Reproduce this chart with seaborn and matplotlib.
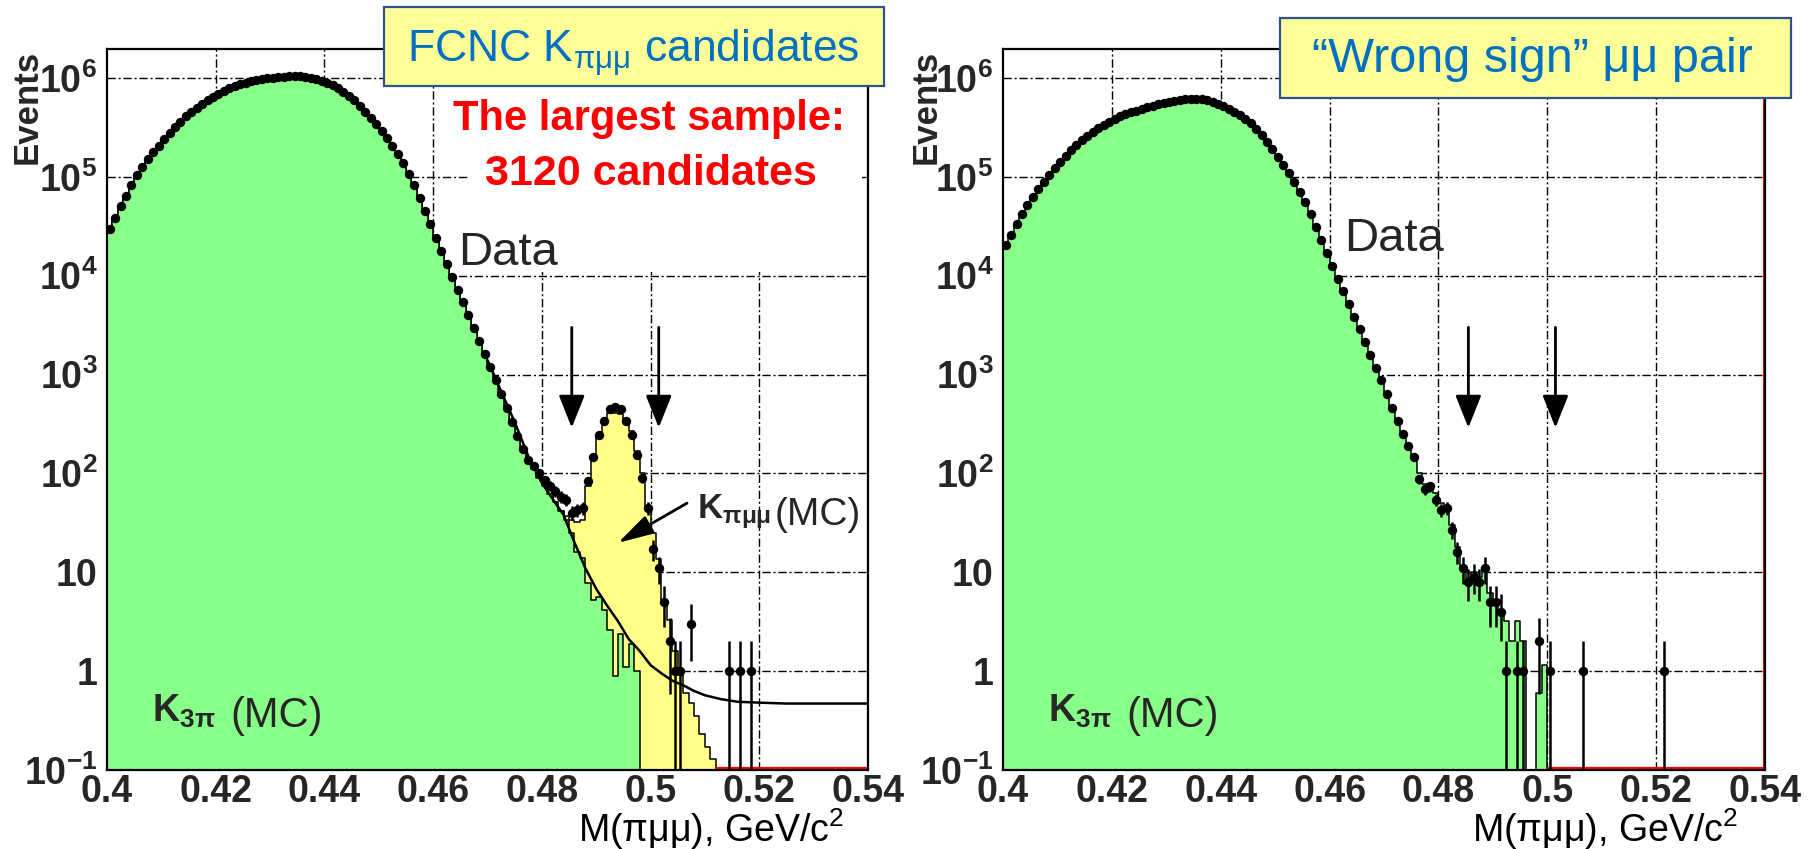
import matplotlib
matplotlib.use("Agg")
import matplotlib.pyplot as plt
from matplotlib import font_manager
from matplotlib.patches import Rectangle
from matplotlib.ticker import MultipleLocator, LogLocator, NullFormatter
import numpy as np
import seaborn as sns

W, H = 1809, 849

# 1 MeV bins from 0.40 to 0.54 GeV
BIN_EDGES = [round(0.400 + 0.001 * i, 4) for i in range(141)]
CENTERS = 0.5 * (np.array(BIN_EDGES[:-1]) + np.array(BIN_EDGES[1:]))

# ---- left panel: FCNC K -> pi mu mu candidates ----
LEFT_K3PI_MC = [
    29500, 38000, 50100, 64600, 83200, 104700, 125900, 151400, 177800, 204200,
    239900, 275400, 316200, 354800, 407400, 457100, 501200, 549500, 602600, 645700,
    691800, 741300, 794300, 831800, 871000, 891300, 933300, 955000, 977200, 1000000,
    1000000, 1023000, 1023000, 1035000, 1040000, 1035000, 1023000, 1000000, 977000, 933000,
    891000, 851000, 794000, 724000, 661000, 603000, 525000, 457000, 389000, 339000,
    288000, 245000, 204000, 170000, 138000, 107000, 83200, 61700, 44700, 33100,
    24000, 17800, 13200, 9770, 7240, 5370, 3980, 2950, 2190, 1620,
    1200, 871, 631, 457, 331, 240, 178, 138, 110, 89,
    74, 62, 51, 42, 34, 25, 16, 14, 7.8, 5.3,
    5.6, 4.2, 2.6, 0.9, 2.4, 1.1, 1.9, 1.0, 0, 0,
] + [0] * 40

LEFT_KPIMUMU_MC = [0] * 84 + [
    3, 9, 16, 20, 66, 143, 234, 336, 407, 409,
    393, 349, 266, 166, 100, 46, 25, 13.5, 5.3, 3.3,
    1.6, 1.0, 0.6, 0.48, 0.35, 0.23, 0.17, 0.13,
] + [0] * 28

LEFT_DATA = [
    29500, 38000, 50100, 64600, 83200, 104700, 125900, 151400, 177800, 204200,
    239900, 275400, 316200, 354800, 407400, 457100, 501200, 549500, 602600, 645700,
    691800, 741300, 794300, 831800, 871000, 891300, 933300, 955000, 977200, 1000000,
    1000000, 1023000, 1023000, 1035000, 1040000, 1035000, 1023000, 1000000, 977000, 933000,
    891000, 851000, 794000, 724000, 661000, 603000, 525000, 457000, 389000, 339000,
    288000, 245000, 204000, 170000, 138000, 107000, 83200, 61700, 44700, 33100,
    24000, 17800, 13200, 9770, 7240, 5370, 3980, 2950, 2190, 1620,
    1200, 871, 631, 457, 331, 240, 178, 138, 120, 100,
    85, 75, 66, 58, 54, 40, 43, 45, 83, 148,
    245, 340, 445, 470, 445, 340, 245, 155, 89, 45,
    17, 11, 5, 2, 1, 1, 0, 3, 0, 0,
    0, 0, 0, 0, 1, 0, 1, 0, 1, 0,
] + [0] * 20

FIT_MASS = [0.470, 0.4725, 0.475, 0.4775, 0.480, 0.482, 0.484, 0.486, 0.488, 0.490,
            0.492, 0.494, 0.496, 0.498, 0.500, 0.502, 0.504, 0.506, 0.508, 0.510,
            0.513, 0.516, 0.520, 0.525, 0.530, 0.540]
FIT_VALUE = [1400, 680, 330, 150, 80, 55, 38, 20, 11, 6.8,
             4.6, 3.2, 2.1, 1.6, 1.15, 0.95, 0.8, 0.72, 0.63, 0.57,
             0.52, 0.49, 0.48, 0.47, 0.47, 0.47]

# ---- right panel: "wrong sign" mu mu pairs ----
RIGHT_K3PI_MC = [
    20400, 25700, 33100, 41700, 51300, 63100, 75900, 89100, 104700, 123000,
    141300, 162200, 186200, 208900, 234400, 257000, 281800, 309000, 331100, 354800,
    380200, 407400, 426600, 446700, 467700, 489800, 512900, 524800, 549500, 562300,
    575400, 588800, 602600, 609500, 616600, 616600, 609500, 602600, 575400, 549500,
    524800, 489800, 457100, 416900, 380200, 346700, 302000, 263000, 223900, 190500,
    158500, 131800, 109600, 89100, 70800, 55000, 41700, 30900, 22900, 17000,
    12600, 9330, 6920, 5130, 3800, 2880, 2140, 1580, 1170, 871,
    631, 457, 339, 251, 191, 145, 100, 79, 69, 63,
    50, 42, 30, 18, 11.5, 8.4, 10, 9, 10.6, 6.2,
    5.3, 4.2, 3.2, 2.0, 3.2, 2.0, 0, 0, 0.6, 1.15,
] + [0] * 40

RIGHT_DATA = [
    20400, 25700, 33100, 41700, 51300, 63100, 75900, 89100, 104700, 123000,
    141300, 162200, 186200, 208900, 234400, 257000, 281800, 309000, 331100, 354800,
    380200, 407400, 426600, 446700, 467700, 489800, 512900, 524800, 549500, 562300,
    575400, 588800, 602600, 609500, 616600, 616600, 609500, 602600, 575400, 549500,
    524800, 489800, 457100, 416900, 380200, 346700, 302000, 263000, 223900, 190500,
    158500, 131800, 109600, 89100, 70800, 55000, 41700, 30900, 22900, 17000,
    12600, 9330, 6920, 5130, 3800, 2880, 2140, 1580, 1170, 871,
    631, 457, 339, 251, 191, 145, 87, 69, 74, 54,
    43, 45, 27, 16, 11, 8, 9, 8, 11, 5,
    5, 4, 1, 0, 1, 1, 0, 0, 2, 0,
    1, 0, 0, 0, 0, 0, 1, 0, 0, 0,
    0, 0, 0, 0, 0, 0, 0, 0, 0, 0,
    0, 1, 0, 0, 0, 0, 0, 0, 0, 0,
] + [0] * 10

CUT_MASS = [0.4855, 0.5015]
X_TICKS = [0.40, 0.42, 0.44, 0.46, 0.48, 0.50, 0.52, 0.54]
X_TICK_LABELS = ["0.4", "0.42", "0.44", "0.46", "0.48", "0.5", "0.52", "0.54"]
Y_TICKS = [0.1, 1, 10, 100, 1e3, 1e4, 1e5, 1e6]
Y_TICK_LABELS = ["10$\\mathregular{^{-1}}$", "1", "10", "10$\\mathregular{^{2}}$",
                 "10$\\mathregular{^{3}}$", "10$\\mathregular{^{4}}$",
                 "10$\\mathregular{^{5}}$", "10$\\mathregular{^{6}}$"]
Y_MAX = 1.96e6

GREEN = "#88FF88"
YELLOW = "#FFFF88"
BOX_FILL = "#FFFF99"
BOX_EDGE = "#2F528F"
BOX_TEXT = "#0070C0"

available = {f.name for f in font_manager.fontManager.ttflist}
NARROW = "Liberation Sans Narrow" if "Liberation Sans Narrow" in available else "Liberation Sans"
ROOT_FONT = NARROW


def fx(px):
    return px / W


def fy(py):
    return 1 - py / H


def draw_grid(ax):
    for x in X_TICKS[1:-1]:
        ax.axvline(x, color="black", lw=1.0, dashes=(6, 2, 1.5, 2), zorder=0.5)
    for y in Y_TICKS[1:]:
        ax.axhline(y, color="black", lw=1.0, dashes=(6, 2, 1.5, 2), zorder=0.5)


def draw_panel(ax, k3pi, data, signal=None):
    k3pi = np.asarray(k3pi, dtype=float)
    data = np.asarray(data, dtype=float)
    draw_grid(ax)
    top = k3pi.copy()
    if signal is not None:
        top = k3pi + np.asarray(signal, dtype=float)
        sns.histplot(x=CENTERS, weights=top, bins=BIN_EDGES, element="step",
                     fill=True, color=YELLOW, alpha=1, edgecolor="black",
                     linewidth=1.1, ax=ax, zorder=2)
    sns.histplot(x=CENTERS, weights=k3pi, bins=BIN_EDGES, element="step",
                 fill=True, color=GREEN, alpha=1, edgecolor="black",
                 linewidth=1.1, ax=ax, zorder=2.2)

    # red empty histogram outline along the bottom after the MC ends
    last = np.nonzero(top)[0].max()
    ax.hlines(0.105, BIN_EDGES[last + 1], 0.54, color="red", lw=1.6, zorder=2.3)

    m = data > 0
    n = data[m]
    err = np.sqrt(n)
    ax.vlines(CENTERS[m], np.clip(n - err, 1e-3, None), n + err,
              color="black", lw=1.8, zorder=5)
    sns.scatterplot(x=CENTERS[m], y=n, color="black", s=46, linewidth=0,
                    ax=ax, zorder=6)

    for xc in CUT_MASS:
        ax.annotate("", xy=(xc, 290), xytext=(xc, 3000),
                    arrowprops=dict(arrowstyle="-|>,head_length=2,head_width=0.8",
                                    color="black", lw=2.0, shrinkA=0, shrinkB=0),
                    zorder=7)

    ax.set_yscale("log")
    ax.set_xlim(0.40, 0.54)
    ax.set_ylim(0.1, Y_MAX)
    ax.set_xticks(X_TICKS, X_TICK_LABELS)
    ax.xaxis.set_minor_locator(MultipleLocator(0.005))
    ax.set_yticks(Y_TICKS, Y_TICK_LABELS)
    ax.yaxis.set_minor_locator(LogLocator(base=10, subs=np.arange(2, 10)))
    ax.yaxis.set_minor_formatter(NullFormatter())
    ax.tick_params(which="both", direction="in", top=False, right=False,
                   width=1.4, color="black")
    ax.tick_params(which="major", length=16.5)
    ax.tick_params(which="minor", length=8.5)
    ax.tick_params(axis="x", pad=3)
    ax.tick_params(axis="y", pad=7)
    for lab in ax.get_xticklabels() + ax.get_yticklabels():
        lab.set_fontfamily(ROOT_FONT)
        lab.set_fontweight("bold")
        lab.set_fontsize(27)
    for sp in ax.spines.values():
        sp.set_linewidth(1.6)
        sp.set_color("black")
        sp.set_zorder(8)
    ax.set_axisbelow(False)
    ax.set_xlabel("")
    ax.set_ylabel("")


def main():
    sns.set_style("white")
    plt.rcParams["font.family"] = [NARROW, "DejaVu Sans"]
    plt.rcParams["mathtext.fontset"] = "custom"

    fig = plt.figure(figsize=(W / 100, H / 100), dpi=100)
    ax_l = fig.add_axes([fx(107), 1 - 770 / H, 761 / W, 721 / H])
    ax_r = fig.add_axes([fx(1003), 1 - 770 / H, 762 / W, 721 / H])

    draw_panel(ax_l, LEFT_K3PI_MC, LEFT_DATA, LEFT_KPIMUMU_MC)
    draw_panel(ax_r, RIGHT_K3PI_MC, RIGHT_DATA)

    # fitted K3pi + flat background curve
    sns.lineplot(x=FIT_MASS, y=FIT_VALUE, color="black", lw=1.8, ax=ax_l, zorder=4)
    ax_l.set_xlabel("")
    ax_l.set_ylabel("")
    ax_l.set_ylim(0.1, Y_MAX)

    # white background of the red text box (hides the grid)
    ax_l.add_patch(Rectangle((fx(468), fy(272)), (862 - 468) / W, (272 - 86) / H,
                             transform=fig.transFigure, facecolor="white",
                             edgecolor="none", zorder=0.8))
    ax_r.axvline(0.5398, color="red", lw=1.4, zorder=2.3)
    ax_l.axvline(0.5398, color="red", lw=1.0, alpha=0.35, zorder=2.3)

    ax_l.annotate("", xy=(0.4940, 19.8), xytext=(0.5067, 50),
                  arrowprops=dict(arrowstyle="-|>,head_length=2.2,head_width=0.6",
                                  color="black", lw=2.0, shrinkA=0, shrinkB=0),
                  zorder=7)

    # y-axis titles
    for xc in (27, 926):
        fig.text(fx(xc), fy(50), "Events", rotation=90, ha="center", va="top",
                 fontsize=25, fontweight="bold", family="Liberation Sans")

    # x-axis titles
    for xr in (844, 1738):
        fig.text(fx(xr), fy(842), "M(πμμ), GeV/c$\\mathregular{^{2}}$", ha="right",
                 va="baseline", fontsize=27, color="black")

    # K3pi (MC) labels
    for x0 in (152, 1048):
        fig.text(fx(x0), fy(722), "K$\\mathregular{_{3π}}$", ha="left", va="baseline",
                 fontsize=27, fontweight="bold", family="Liberation Sans")
        fig.text(fx(x0 + 78), fy(727), "(MC)", ha="left", va="baseline", fontsize=30)

    # Data labels
    fig.text(fx(458), fy(265), "Data", ha="left", va="baseline", fontsize=34)
    fig.text(fx(1344), fy(251), "Data", ha="left", va="baseline", fontsize=34)

    # K pi mu mu (MC) label
    fig.text(fx(697), fy(518), "K$\\mathregular{_{πμμ}}$", ha="left", va="baseline",
             fontsize=25, fontweight="bold", family="Liberation Sans")
    fig.text(fx(775), fy(525), "(MC)", ha="left", va="baseline", fontsize=28)

    # red text
    fig.text(fx(649), fy(130), "The largest sample:", ha="center", va="baseline",
             fontsize=30, fontweight="bold", color="red")
    fig.text(fx(651), fy(185), "3120 candidates", ha="center", va="baseline",
             fontsize=31, fontweight="bold", color="red")

    # yellow title boxes
    fig.add_artist(Rectangle((fx(384), fy(86)), (884 - 384) / W, (86 - 7) / H,
                             transform=fig.transFigure, facecolor=BOX_FILL,
                             edgecolor=BOX_EDGE, lw=1.6, zorder=9))
    fig.text(fx(407), fy(63), "FCNC K$\\mathregular{_{πμμ}}$ candidates", ha="left",
             va="baseline", fontsize=32, color=BOX_TEXT, zorder=10)
    fig.add_artist(Rectangle((fx(1280), fy(98)), (1791 - 1280) / W, (98 - 18) / H,
                             transform=fig.transFigure, facecolor=BOX_FILL,
                             edgecolor=BOX_EDGE, lw=1.6, zorder=9))
    fig.text(fx(1312), fy(72), "\u201cWrong sign\u201d μμ pair", ha="left",
             va="baseline", fontsize=35, color=BOX_TEXT, zorder=10)

    # tips of green brackets cut off at the top edge of the slide
    fig.text(fx(1562), fy(-12), "(", ha="left", va="baseline", fontsize=40,
             color="#3A8A3A")
    fig.text(fx(1684), fy(-12), ")", ha="left", va="baseline", fontsize=40,
             color="#3A8A3A")

    fig.savefig("out.png", dpi=100)
    plt.close(fig)


if __name__ == "__main__":
    main()
